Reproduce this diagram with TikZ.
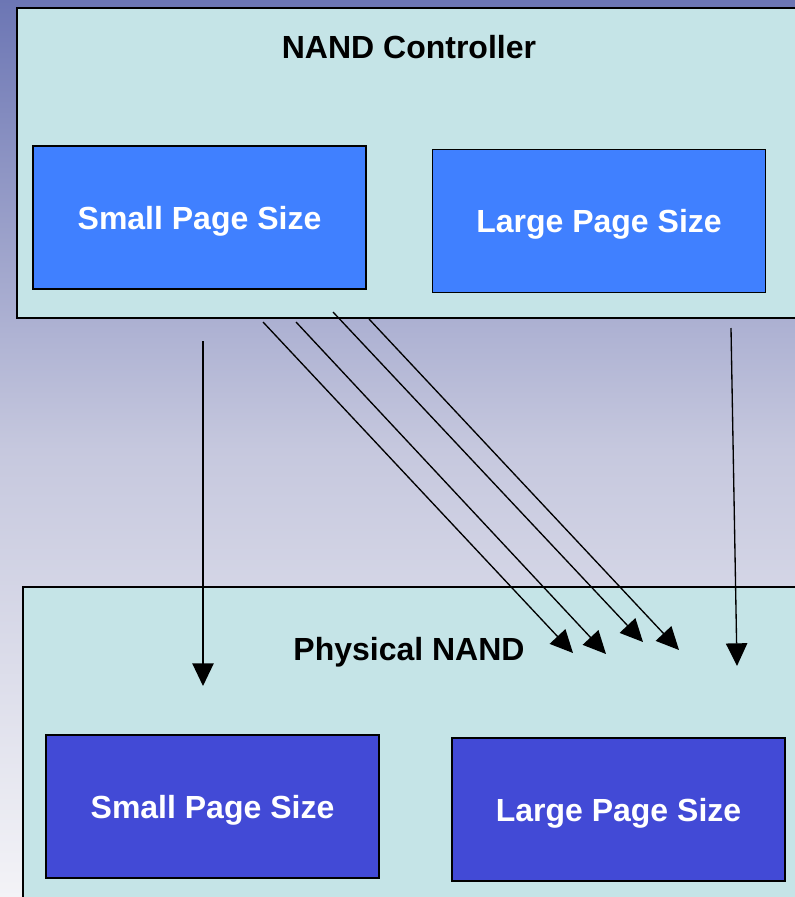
\documentclass[tikz,border=0pt]{standalone}
\usepackage{fontspec}
\setmainfont{Liberation Sans}
\usetikzlibrary{arrows.meta}

\definecolor{bgtop}{RGB}{108,118,180}
\definecolor{bgmid}{RGB}{198,200,222}
\definecolor{bgbot}{RGB}{243,243,247}
\definecolor{panel}{RGB}{197,228,231}
\definecolor{ctrlblue}{RGB}{64,128,255}
\definecolor{nandblue}{RGB}{66,74,214}

\tikzset{
    panelbox/.style={draw, line width=1.6pt, fill=panel},
    pagebox/.style={draw, line width=1.2pt, minimum width=250pt, minimum height=107pt,
        text depth=0pt, text=white, font=\fontsize{24}{28}\selectfont\bfseries},
    title/.style={text depth=0pt, font=\fontsize{24}{28}\selectfont\bfseries},
    link/.style={line width=1pt, -{Triangle[length=17pt, width=16pt]}}
}

\begin{document}
\begin{tikzpicture}[x=0.75pt, y=-0.75pt]
    \useasboundingbox (0,0) rectangle (795,897);
    \clip (0,0) rectangle (795,897);

    % background
    \shade[top color=bgtop, bottom color=bgmid] (0,0) rectangle (795,450);
    \shade[top color=bgmid, bottom color=bgbot] (0,450) rectangle (795,897.5);

    % the two panels
    \draw[panelbox] (17,8) rectangle (805,318);
    \draw[panelbox] (23,587) rectangle (805,905);

    \node[title] (ctrl) at (409,47) {NAND Controller};
    \node[title] (nand) at (409,649) {Physical NAND};

    \node[pagebox, fill=ctrlblue] (ctrl small) at (199.5,217.5) {Small Page Size};
    \node[pagebox, fill=ctrlblue] (ctrl large) at (599,221) {Large Page Size};
    \node[pagebox, fill=nandblue] (nand small) at (212.5,806.5) {Small Page Size};
    \node[pagebox, fill=nandblue] (nand large) at (618.5,809.5) {Large Page Size};

    % arrow ends
    \coordinate (s1) at (203,341);  \coordinate (e1) at (203,686);
    \coordinate (s2) at (263,322);  \coordinate (e2) at (573,653);
    \coordinate (s3) at (296,322);  \coordinate (e3) at (606,654);
    \coordinate (s4) at (333,312);  \coordinate (e4) at (643,642);
    \coordinate (s5) at (369,319);  \coordinate (e5) at (679,650);
    \coordinate (s6) at (731,328);  \coordinate (e6) at (737,666);

    \foreach \i in {1,...,6}
        \draw[link] (s\i) -- (e\i);
\end{tikzpicture}
\end{document}
